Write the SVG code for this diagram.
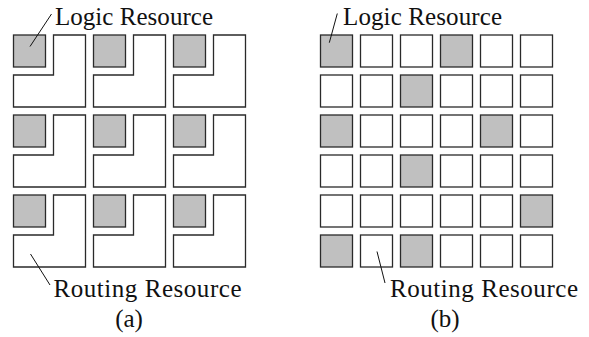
<svg xmlns="http://www.w3.org/2000/svg" width="589" height="337" viewBox="0 0 589 337">
  <style>
    .logic { fill: #c0c0c0; stroke: #2a2a2a; stroke-width: 1.3; }
    .route { fill: #ffffff; stroke: #2a2a2a; stroke-width: 1.3; }
    .lead { stroke: #111; stroke-width: 1; fill: none; }
  </style>
  <defs>
    <!-- one tile of panel (a): logic square + L-shaped routing area -->
    <g id="tileA">
      <rect class="logic" x="0" y="0" width="32" height="32"/>
      <path class="route" d="M40 0 H72 V72 H0 V40 H40 Z"/>
    </g>
    <rect id="cellLogic" class="logic" x="0" y="0" width="32" height="32"/>
    <rect id="cellRoute" class="route" x="0" y="0" width="32" height="32"/>
  </defs>

  <!-- panel (a): 3x3 tiles -->
  <g id="panel-a">
    <use href="#tileA" x="13.5" y="35"/>
    <use href="#tileA" x="93.5" y="35"/>
    <use href="#tileA" x="173.5" y="35"/>
    <use href="#tileA" x="13.5" y="115"/>
    <use href="#tileA" x="93.5" y="115"/>
    <use href="#tileA" x="173.5" y="115"/>
    <use href="#tileA" x="13.5" y="195"/>
    <use href="#tileA" x="93.5" y="195"/>
    <use href="#tileA" x="173.5" y="195"/>
  </g>

  <!-- panel (b): 6x6 grid of cells -->
  <g id="panel-b">
    <!-- row 0 -->
    <use href="#cellLogic" x="320.5" y="35"/>
    <use href="#cellRoute" x="360.5" y="35"/>
    <use href="#cellRoute" x="400.5" y="35"/>
    <use href="#cellLogic" x="440.5" y="35"/>
    <use href="#cellRoute" x="480.5" y="35"/>
    <use href="#cellRoute" x="520.5" y="35"/>
    <!-- row 1 -->
    <use href="#cellRoute" x="320.5" y="75"/>
    <use href="#cellRoute" x="360.5" y="75"/>
    <use href="#cellLogic" x="400.5" y="75"/>
    <use href="#cellRoute" x="440.5" y="75"/>
    <use href="#cellRoute" x="480.5" y="75"/>
    <use href="#cellRoute" x="520.5" y="75"/>
    <!-- row 2 -->
    <use href="#cellLogic" x="320.5" y="115"/>
    <use href="#cellRoute" x="360.5" y="115"/>
    <use href="#cellRoute" x="400.5" y="115"/>
    <use href="#cellRoute" x="440.5" y="115"/>
    <use href="#cellLogic" x="480.5" y="115"/>
    <use href="#cellRoute" x="520.5" y="115"/>
    <!-- row 3 -->
    <use href="#cellRoute" x="320.5" y="155"/>
    <use href="#cellRoute" x="360.5" y="155"/>
    <use href="#cellLogic" x="400.5" y="155"/>
    <use href="#cellRoute" x="440.5" y="155"/>
    <use href="#cellRoute" x="480.5" y="155"/>
    <use href="#cellRoute" x="520.5" y="155"/>
    <!-- row 4 -->
    <use href="#cellRoute" x="320.5" y="195"/>
    <use href="#cellRoute" x="360.5" y="195"/>
    <use href="#cellRoute" x="400.5" y="195"/>
    <use href="#cellRoute" x="440.5" y="195"/>
    <use href="#cellRoute" x="480.5" y="195"/>
    <use href="#cellLogic" x="520.5" y="195"/>
    <!-- row 5 -->
    <use href="#cellLogic" x="320.5" y="235"/>
    <use href="#cellRoute" x="360.5" y="235"/>
    <use href="#cellLogic" x="400.5" y="235"/>
    <use href="#cellRoute" x="440.5" y="235"/>
    <use href="#cellRoute" x="480.5" y="235"/>
    <use href="#cellRoute" x="520.5" y="235"/>
  </g>

  <!-- leader lines from labels to resources -->
  <g id="connectors">
    <line class="lead" x1="30" y1="46.5" x2="51.5" y2="14"/>
    <line class="lead" x1="30.5" y1="254" x2="50" y2="285"/>
    <line class="lead" x1="329.3" y1="42.7" x2="337.3" y2="13.5"/>
    <line class="lead" x1="377" y1="251.5" x2="385" y2="283"/>
  </g>

  <!-- labels -->
  <g id="labels" font-family="'Liberation Serif', 'DejaVu Serif', serif" font-size="25" fill="#111">
    <text x="55" y="25" textLength="158" lengthAdjust="spacing">Logic Resource</text>
    <text x="53.5" y="296.5" textLength="188" lengthAdjust="spacing">Routing Resource</text>
    <text x="129" y="327" text-anchor="middle">(a)</text>
    <text x="343" y="25" textLength="159" lengthAdjust="spacing">Logic Resource</text>
    <text x="390" y="296.5" textLength="188" lengthAdjust="spacing">Routing Resource</text>
    <text x="445" y="327" text-anchor="middle">(b)</text>
  </g>
</svg>
